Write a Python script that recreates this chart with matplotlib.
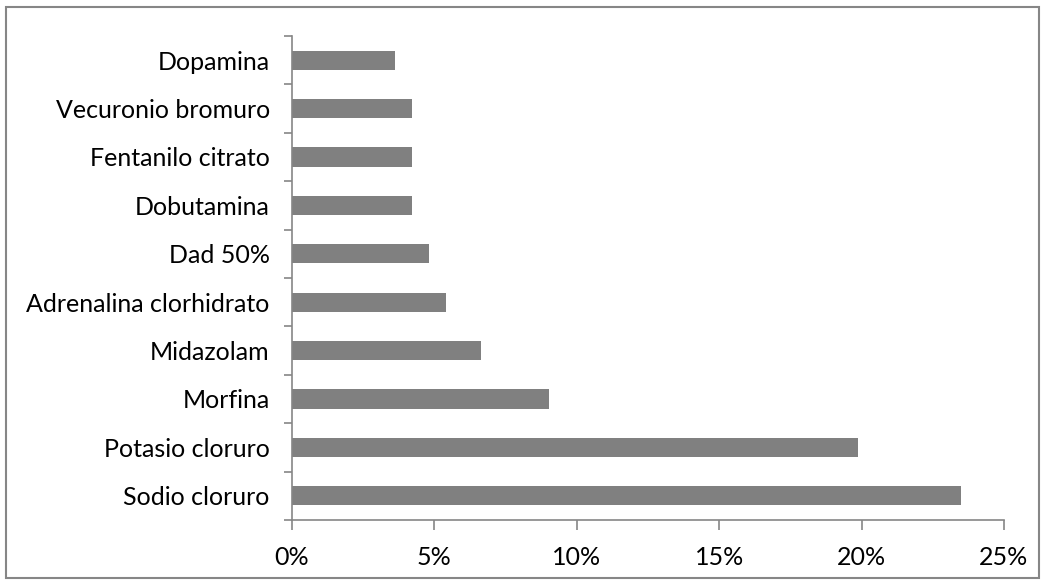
import matplotlib
matplotlib.use("Agg")
import matplotlib.pyplot as plt
from matplotlib.ticker import FuncFormatter, FixedLocator
from matplotlib.patches import Rectangle

categories = ["Sodio cloruro", "Potasio cloruro", "Morfina", "Midazolam",
              "Adrenalina clorhidrato", "Dad 50%", "Dobutamina",
              "Fentanilo citrato", "Vecuronio bromuro", "Dopamina"]
values = [23.49, 19.88, 9.04, 6.63, 5.42, 4.82, 4.22, 4.22, 4.22, 3.61]
xticks = [0, 5, 10, 15, 20, 25]

plt.rcParams['font.family'] = ['Lato', 'DejaVu Sans']

fig = plt.figure(figsize=(10.45, 5.84), dpi=100)
ax = fig.add_axes([292/1045, 1-520/584, (1004-292)/1045, (520-36)/584])

axis_color = "#868686"
ypos = list(range(len(categories)))
ax.barh(ypos, values, height=0.4, color="#808080", edgecolor="none")
ax.set_xlim(0, 25)
ax.set_ylim(-0.5, len(categories) - 0.5)

ax.set_xticks(xticks)
ax.xaxis.set_major_formatter(FuncFormatter(lambda v, p: f"{int(v)}%"))
ax.set_yticks(ypos)
ax.set_yticklabels(categories)
ax.yaxis.set_minor_locator(FixedLocator([i - 0.5 for i in range(len(categories) + 1)]))

ax.tick_params(axis='y', which='major', length=0, pad=16, labelsize=18)
ax.tick_params(axis='y', which='minor', length=6, width=1.2, color=axis_color, direction='out')
ax.tick_params(axis='x', which='major', length=7, width=1.2, color=axis_color, direction='out', pad=12, labelsize=18)

for s in ['top', 'right']:
    ax.spines[s].set_visible(False)
for s in ['left', 'bottom']:
    ax.spines[s].set_color(axis_color)
    ax.spines[s].set_linewidth(1.2)

fig.patches.append(Rectangle((6/1045, 1-578/584), (1039-6)/1045, (578-7)/584,
                             transform=fig.transFigure, fill=False,
                             edgecolor=axis_color, linewidth=1.5))

fig.savefig("out.png", dpi=100)
